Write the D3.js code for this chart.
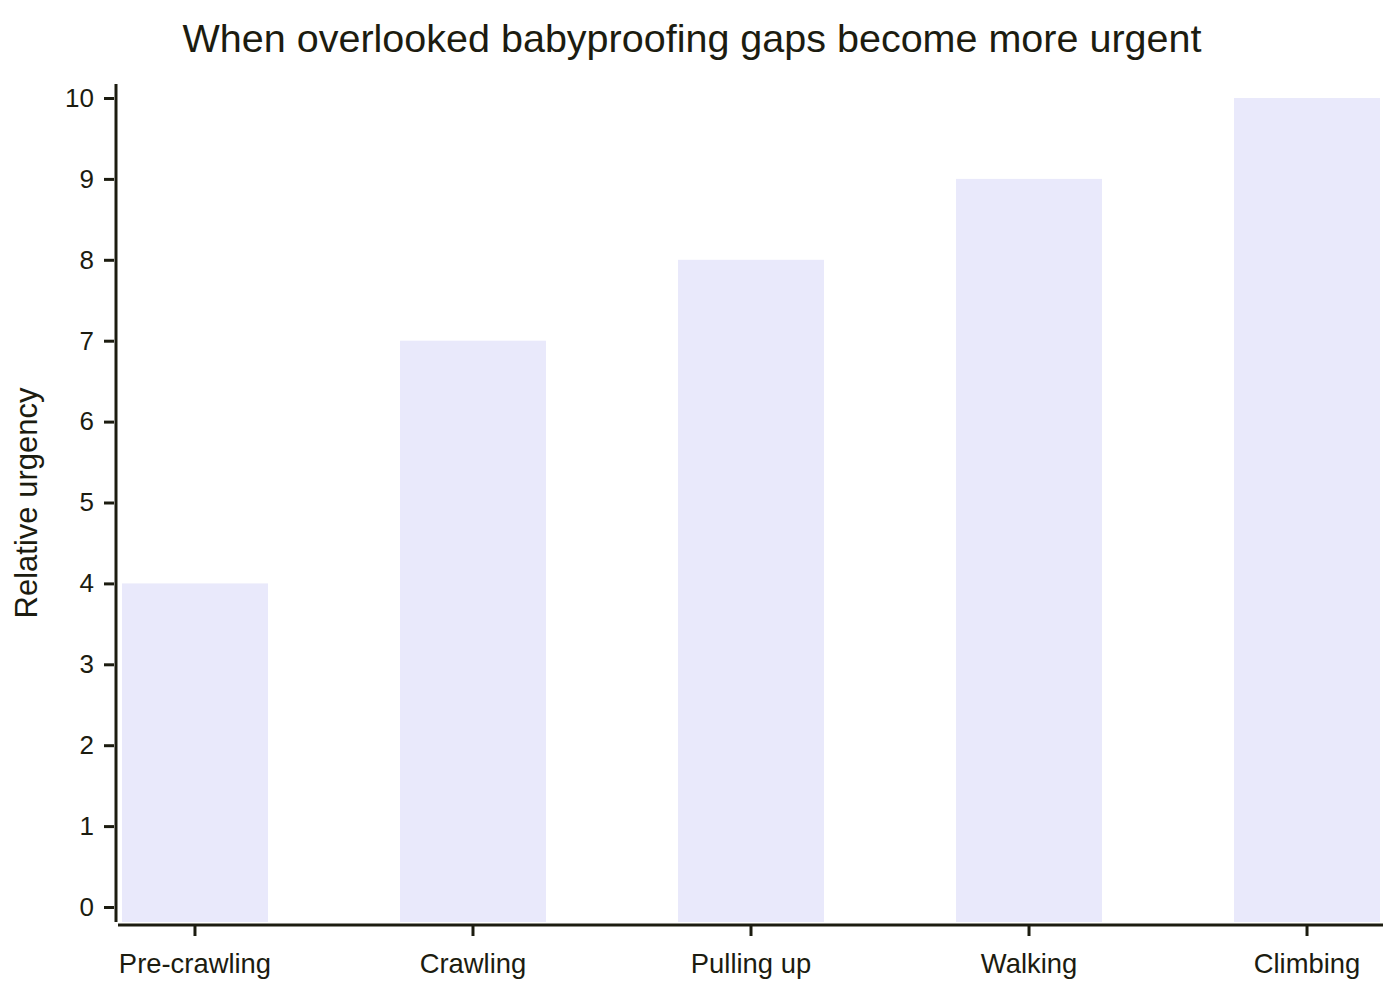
<!DOCTYPE html>
<html>
<head>
<meta charset="utf-8">
<script src="https://cdn.jsdelivr.net/npm/d3@7"></script>
<style>
  body { margin: 0; background: #ffffff; }
  svg { font-family: "Liberation Sans", Arial, sans-serif; }
</style>
</head>
<body>
<svg id="chart" width="1400" height="1000"></svg>
<script>
const stages = ["Pre-crawling", "Crawling", "Pulling up", "Walking", "Climbing"];
const urgency = [4, 7, 8, 9, 10];
const yTicks = [0, 1, 2, 3, 4, 5, 6, 7, 8, 9, 10];

const svg = d3.select("#chart");
const ink = "#1c1c10";

const plotLeft = 116;
const plotRight = 1383;
const plotTop = 84;
const plotBottom = 922;

const xScale = d3.scaleBand()
    .domain(stages)
    .range([122, 1380])
    .paddingInner(0.475)
    .paddingOuter(0);

const yScale = d3.scaleLinear()
    .domain([0, 10])
    .range([907, 98]);

// bars
svg.append("g")
    .selectAll("rect")
    .data(stages)
    .join("rect")
    .attr("x", function (d) { return xScale(d); })
    .attr("y", function (d, i) { return yScale(urgency[i]); })
    .attr("width", xScale.bandwidth())
    .attr("height", function (d, i) { return plotBottom - yScale(urgency[i]); })
    .attr("fill", "#e9e9fb");

// y axis
const yAxis = svg.append("g")
    .attr("transform", `translate(${plotLeft}, 0)`)
    .call(d3.axisLeft(yScale).tickValues(yTicks).tickSize(12).tickPadding(10).tickSizeOuter(0));
yAxis.select(".domain").remove();
yAxis.append("line")
    .attr("x1", 0).attr("x2", 0)
    .attr("y1", plotTop).attr("y2", plotBottom)
    .attr("stroke", ink).attr("stroke-width", 3);
yAxis.selectAll(".tick line").attr("stroke", ink).attr("stroke-width", 3).attr("x2", -12).attr("x1", -2);
yAxis.selectAll(".tick text").attr("fill", ink).style("font-size", "26px");

// x axis
const xAxis = svg.append("g")
    .attr("transform", `translate(0, 925)`)
    .call(d3.axisBottom(xScale).tickSize(11).tickPadding(18).tickSizeOuter(0));
xAxis.select(".domain").remove();
xAxis.append("line")
    .attr("x1", 118).attr("x2", plotRight)
    .attr("y1", 0).attr("y2", 0)
    .attr("stroke", ink).attr("stroke-width", 3);
xAxis.selectAll(".tick line").attr("stroke", ink).attr("stroke-width", 3);
xAxis.selectAll(".tick text").attr("fill", ink).style("font-size", "27.4px");

// titles
svg.append("text")
    .attr("x", 692)
    .attr("y", 52)
    .attr("text-anchor", "middle")
    .attr("fill", ink)
    .style("font-size", "39.5px")
    .text("When overlooked babyproofing gaps become more urgent");

svg.append("text")
    .attr("transform", `translate(37, 503) rotate(-90)`)
    .attr("text-anchor", "middle")
    .attr("fill", ink)
    .style("font-size", "31px")
    .text("Relative urgency");
</script>
</body>
</html>
